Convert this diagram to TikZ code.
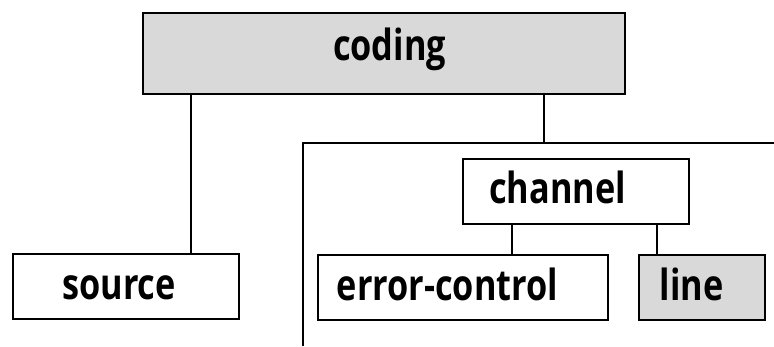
\documentclass[tikz,border=0pt]{standalone}
\usepackage{fontspec}
\setmainfont[FakeStretch=0.8]{Open Sans}
\usepackage{tikz}

\begin{document}
\begin{tikzpicture}
  [x=0.02cm,y=-0.02cm,every node/.style={inner sep=0pt}]
 \tikzset{box/.style = {draw,line width=1.1pt,minimum height=65*0.02cm},
          shaded/.style = {fill=black!15},
          word/.style = {anchor=base,font=\fontsize{24.4}{28}\selectfont\bfseries},
          edge/.style = {line width=0.9pt}}
  \useasboundingbox (0,0) rectangle (774,346);
  \node[box,shaded,minimum width=482*0.02cm,minimum height=81*0.02cm] (coding) at (384,53.5) {};
  \node[box,minimum width=226*0.02cm] (source) at (126,286.5) {};
  \node[box,minimum width=226*0.02cm] (channel) at (576,191.5) {};
  \node[box,minimum width=290*0.02cm] (errctl) at (463,287.5) {};
  \node[box,shaded,minimum width=126*0.02cm] (line) at (702,287.5) {};
  \node[word] (codingT) at (389.5,60) {coding};
  \node[word] (sourceT) at (119,299) {source};
  \node[word] (channelT) at (557.5,203) {channel};
  \node[word] (errctlT) at (447.5,300) {error-control};
  \node[word] (lineT) at (691.5,300) {line};
  %bracket round the channel part
  \coordinate (brkTop) at (303,143);
  \coordinate (brkEnd) at (774,143);
  \coordinate (brkFoot) at (303,346);

  \draw[edge] (brkFoot) -- (brkTop) -- (brkEnd);
  \draw[edge] (coding.south -| 191,0) -- (source.north -| 191,0);
  \draw[edge] (coding.south -| 544,0) -- (brkTop -| 544,0);
  \foreach \x/\to in {512/errctl,657/line}
    \draw[edge] (channel.south -| \x,0) -- (\to.north -| \x,0);

\end{tikzpicture}
\end{document}
